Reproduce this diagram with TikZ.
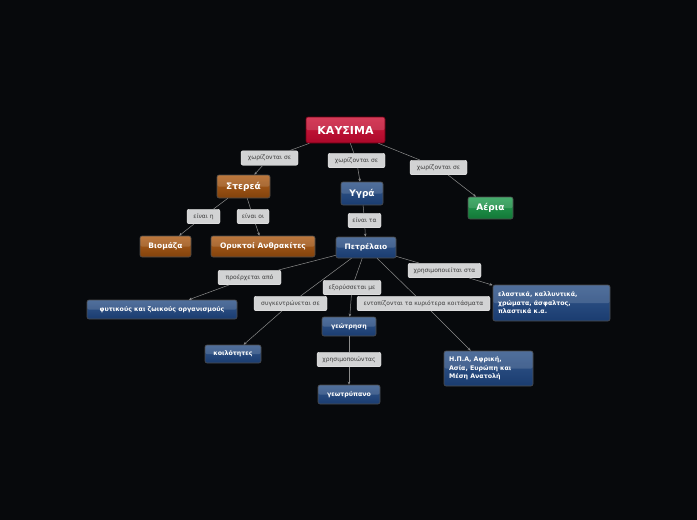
\documentclass[tikz,border=0pt]{standalone}
\usepackage{fontspec}
\setmainfont{DejaVu Sans}
\usetikzlibrary{arrows.meta}
\definecolor{bg}{HTML}{07090C}
\definecolor{lblfill}{HTML}{D2D3D4}
\definecolor{lbltext}{HTML}{3E3E3E}
\definecolor{edge}{HTML}{8C8C8C}
\tikzset{
  x=1pt, y=-1pt,
  box/.style={rounded corners=2pt, draw=black!70, line width=0.6pt, text=white,
    font=\bfseries, inner sep=1pt, align=center,
    path picture={\fill[white,opacity=0.14] (path picture bounding box.north west) rectangle (path picture bounding box.east);}},
  redbox/.style={box, draw={rgb,255:red,110;green,0;blue,20},
    top color={rgb,255:red,206;green,28;blue,62}, bottom color={rgb,255:red,172;green,8;blue,42}},
  brownbox/.style={box, top color={rgb,255:red,178;green,98;blue,30}, bottom color={rgb,255:red,130;green,66;blue,12}},
  bluebox/.style={box, top color={rgb,255:red,52;green,88;blue,140}, bottom color={rgb,255:red,26;green,60;blue,112}},
  greenbox/.style={box, top color={rgb,255:red,40;green,160;blue,85}, bottom color={rgb,255:red,18;green,120;blue,55}},
  lbl/.style={rounded corners=2pt, fill=lblfill, draw=white!70!lblfill, line width=0.4pt,
    text=lbltext, font=\fontsize{6}{7}\selectfont, inner xsep=3pt, inner ysep=0pt,
    minimum height=14.5pt},
  con/.style={draw=edge, line width=0.5pt},
  arr/.style={con, -{Stealth[length=3pt,width=2.6pt]}},
}
\begin{document}
\begin{tikzpicture}
\useasboundingbox (0,0) rectangle (697,520);
\fill[bg] (0,0) rectangle (697,520);

% nodes
\node[redbox, minimum width=79pt, minimum height=26pt, font=\bfseries\fontsize{11}{13}\selectfont] (k) at (345.5,130) {ΚΑΥΣΙΜΑ};
\node[brownbox, minimum width=53pt, minimum height=23pt, font=\bfseries\fontsize{9}{11}\selectfont] (st) at (243.5,186.5) {Στερεά};
\node[bluebox, minimum width=42pt, minimum height=23pt, font=\bfseries\fontsize{9}{11}\selectfont] (yg) at (362,193.5) {Υγρά};
\node[greenbox, minimum width=45pt, minimum height=22pt, font=\bfseries\fontsize{9}{11}\selectfont] (ae) at (490.5,208) {Αέρια};
\node[brownbox, minimum width=51pt, minimum height=21pt, font=\bfseries\fontsize{7.5}{9}\selectfont] (bio) at (165.5,246.5) {Βιομάζα};
\node[brownbox, minimum width=104pt, minimum height=21pt, font=\bfseries\fontsize{7.5}{9}\selectfont] (or) at (263,246.5) {Ορυκτοί Ανθρακίτες};
\node[bluebox, minimum width=60pt, minimum height=21pt, font=\bfseries\fontsize{7.5}{9}\selectfont] (pe) at (366,247.5) {Πετρέλαιο};
\node[bluebox, minimum width=150pt, minimum height=19pt, font=\bfseries\fontsize{6.3}{8}\selectfont] (fy) at (162,309.5) {φυτικούς και ζωικούς οργανισμούς};
\node[bluebox, minimum width=56pt, minimum height=18pt, font=\bfseries\fontsize{6.3}{8}\selectfont] (ko) at (233,354) {κοιλότητες};
\node[bluebox, minimum width=54pt, minimum height=19pt, font=\bfseries\fontsize{6.3}{8}\selectfont] (ge) at (349,326.5) {γεώτρηση};
\node[bluebox, minimum width=62pt, minimum height=19pt, font=\bfseries\fontsize{6.3}{8}\selectfont] (gt) at (349,394.5) {γεωτρύπανο};
\node[bluebox, minimum width=117pt, minimum height=36pt, align=left, text width=107pt, inner xsep=5pt, font=\bfseries\fontsize{6.3}{8.5}\selectfont] (el) at (551.5,303) {ελαστικά, καλλυντικά,\\χρώματα, άσφαλτος,\\πλαστικά κ.α.};
\node[bluebox, minimum width=89pt, minimum height=35pt, align=left, text width=79pt, inner xsep=5pt, font=\bfseries\fontsize{6.3}{8.5}\selectfont] (hp) at (488.5,368.5) {Η.Π.Α, Αφρική,\\Ασία, Ευρώπη και\\Μέση Ανατολή};

% labels
\node[lbl, minimum width=57pt] (l1) at (269.5,158) {χωρίζονται σε};
\node[lbl, minimum width=57pt] (l2) at (356.5,160.5) {χωρίζονται σε};
\node[lbl, minimum width=57pt] (l3) at (438.5,167.5) {χωρίζονται σε};
\node[lbl, minimum width=33pt] (l4) at (203.5,216.5) {είναι η};
\node[lbl, minimum width=32pt] (l5) at (253,216.5) {είναι οι};
\node[lbl, minimum width=33pt] (l6) at (364.5,220.5) {είναι τα};
\node[lbl, minimum width=63pt] (l7) at (249.5,277.5) {προέρχεται από};
\node[lbl, minimum width=73pt] (l8) at (444.5,270.5) {χρησιμοποιείται στα};
\node[lbl, minimum width=58pt] (l9) at (352,287.5) {εξορύσσεται με};
\node[lbl, minimum width=73pt] (l10) at (290.5,303.5) {συγκεντρώνεται σε};
\node[lbl, minimum width=133pt] (l11) at (423.5,303.5) {εντοπίζονται τα κυριότερα κοιτάσματα};
\node[lbl, minimum width=64pt] (l12) at (349,359.5) {χρησιμοποιώντας};

% connectors
\path[con] (k) -- (l1); \path[arr] (l1) -- (st);
\path[con] (k) -- (l2); \path[arr] (l2) -- (yg);
\path[con] (k) -- (l3); \path[arr] (l3) -- (ae);
\path[con] (st) -- (l4); \path[arr] (l4) -- (bio);
\path[con] (st) -- (l5); \path[arr] (l5) -- (or);
\path[con] (yg) -- (l6); \path[arr] (l6) -- (pe);
\path[con] (pe) -- (l7); \path[arr] (l7) -- (fy);
\path[con] (pe) -- (l8); \path[arr] (l8) -- (el);
\path[con] (pe) -- (l9); \path[arr] (l9) -- (ge);
\path[con] (pe) -- (l10); \path[arr] (l10) -- (ko);
\path[con] (pe) -- (l11); \path[arr] (l11) -- (hp);
\path[con] (ge) -- (l12); \path[arr] (l12) -- (gt);
\end{tikzpicture}
\end{document}
